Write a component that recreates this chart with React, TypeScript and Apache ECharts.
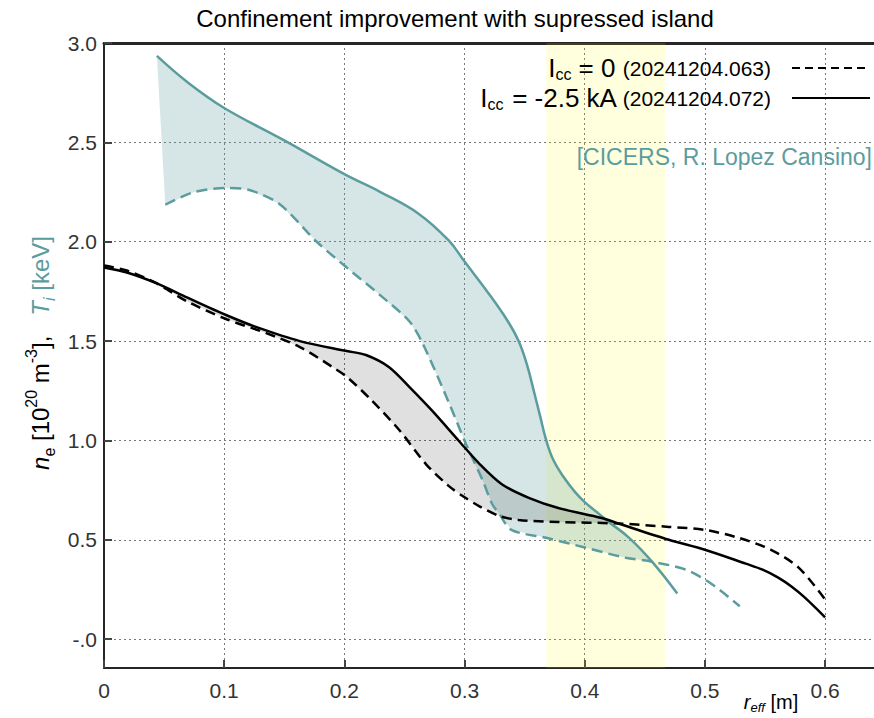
import React, { useEffect, useRef } from 'react';
import * as echarts from 'echarts';

// T_i profiles (teal)
const tiShot072X = [0.044, 0.07, 0.1, 0.15, 0.2, 0.23, 0.262, 0.287, 0.3, 0.32, 0.336, 0.345, 0.352, 0.358, 0.363, 0.368, 0.374, 0.382, 0.392, 0.4, 0.41, 0.42, 0.437, 0.456, 0.477];
const tiShot072Y = [2.935, 2.8, 2.673, 2.51, 2.34, 2.25, 2.14, 2.005, 1.9, 1.74, 1.6, 1.5, 1.38, 1.24, 1.12, 1.0, 0.9, 0.82, 0.74, 0.69, 0.64, 0.59, 0.51, 0.39, 0.23];
const tiShot063X = [0.051, 0.075, 0.102, 0.121, 0.146, 0.177, 0.202, 0.23, 0.254, 0.265, 0.287, 0.301, 0.315, 0.323, 0.329, 0.339, 0.368, 0.401, 0.434, 0.456, 0.484, 0.505, 0.529];
const tiShot063Y = [2.186, 2.25, 2.27, 2.26, 2.19, 2.0, 1.87, 1.73, 1.6, 1.49, 1.19, 0.985, 0.8, 0.68, 0.63, 0.55, 0.51, 0.46, 0.41, 0.39, 0.35, 0.28, 0.166];

// n_e profiles (black)
const neShot072X = [0, 0.019, 0.044, 0.069, 0.102, 0.127, 0.163, 0.202, 0.218, 0.237, 0.254, 0.273, 0.295, 0.312, 0.331, 0.354, 0.378, 0.414, 0.428, 0.47, 0.5, 0.534, 0.548, 0.561, 0.572, 0.583, 0.6];
const neShot072Y = [1.87, 1.845, 1.79, 1.72, 1.63, 1.57, 1.5, 1.45, 1.43, 1.37, 1.27, 1.15, 1.0, 0.885, 0.78, 0.71, 0.66, 0.61, 0.582, 0.5, 0.45, 0.38, 0.35, 0.31, 0.265, 0.21, 0.11];
const neShot063X = [0, 0.019, 0.044, 0.069, 0.102, 0.135, 0.163, 0.19, 0.202, 0.223, 0.246, 0.268, 0.287, 0.3, 0.312, 0.329, 0.345, 0.378, 0.428, 0.47, 0.5, 0.528, 0.555, 0.578, 0.6];
const neShot063Y = [1.88, 1.855, 1.79, 1.7, 1.61, 1.54, 1.47, 1.37, 1.32, 1.2, 1.05, 0.88, 0.77, 0.714, 0.67, 0.62, 0.6, 0.59, 0.582, 0.565, 0.55, 0.51, 0.45, 0.36, 0.2];

// fill limits (where the two curves cross)
const tiFillEndX = 0.456;
const neFillEndX = 0.428;

// highlighted radial band
const bandRange = [0.368, 0.467];

// axes
const xRange = [0, 0.6407];
const yRange = [-0.145, 3.0];
const xStep = 0.1;
const yStep = 0.5;

const titleText = 'Confinement improvement with supressed island';
const legendShots = ['20241204.063', '20241204.072'];
const creditText = '[CICERS, R. Lopez Cansino]';

const TEAL = '#5b9c9e';
const FONT = 'Liberation Sans, Arial, sans-serif';

function pairs(xs: number[], ys: number[]) {
  return xs.map((x, i) => [x, ys[i]]);
}

function bandPolygon(upX: number[], upY: number[], loX: number[], loY: number[], endX: number) {
  const up = pairs(upX, upY).filter((p) => p[0] <= endX + 1e-9);
  const lo = pairs(loX, loY).filter((p) => p[0] <= endX + 1e-9).reverse();
  return up.concat(lo);
}

const legendRich = {
  m: { fontSize: 26, fontFamily: FONT, lineHeight: 29, verticalAlign: 'middle', fill: '#000' },
  s: { fontSize: 16, fontFamily: FONT, lineHeight: 14, verticalAlign: 'bottom', fill: '#000' },
  p: { fontSize: 21, fontFamily: FONT, lineHeight: 29, verticalAlign: 'middle', fill: '#000' },
};

export default function App() {
  const ref = useRef<HTMLDivElement>(null);

  useEffect(() => {
    const chart = echarts.init(ref.current as HTMLDivElement, null, { renderer: 'svg' });

    const tiPoly = bandPolygon(tiShot072X, tiShot072Y, tiShot063X, tiShot063Y, tiFillEndX);
    const nePoly = bandPolygon(neShot072X, neShot072Y, neShot063X, neShot063Y, neFillEndX);

    const fillSeries = (poly: number[][], color: string, z: number) => ({
      type: 'custom',
      silent: true,
      clip: true,
      z,
      data: [[poly[0][0], poly[0][1]]],
      renderItem: (_params: any, api: any) => ({
        type: 'polygon',
        shape: { points: poly.map((p) => api.coord(p)) },
        style: { fill: color, stroke: 'none' },
      }),
    });

    const option: any = {
      animation: false,
      backgroundColor: '#ffffff',
      textStyle: { fontFamily: FONT },
      grid: { left: 104, top: 43, right: 0, bottom: 50, containLabel: false },
      xAxis: [
        {
          type: 'value',
          min: xRange[0],
          max: xRange[1],
          interval: xStep,
          position: 'bottom',
          axisLine: { show: true, onZero: false, lineStyle: { color: '#262626', width: 2 } },
          axisTick: { show: true, inside: true, length: 8, lineStyle: { color: '#444', width: 2 } },
          axisLabel: {
            show: true,
            margin: 12,
            fontSize: 21,
            color: '#333',
            fontFamily: FONT,
            showMaxLabel: false,
            formatter: (v: number) => (Math.abs(v) < 1e-9 ? '0' : v.toFixed(1)),
          },
          splitLine: { show: true, lineStyle: { color: '#777', width: 1, type: [2, 3] } },
        },
        {
          type: 'value',
          min: xRange[0],
          max: xRange[1],
          position: 'top',
          axisLine: { show: true, onZero: false, lineStyle: { color: '#262626', width: 3 } },
          axisTick: { show: false },
          axisLabel: { show: false },
          splitLine: { show: false },
        },
      ],
      yAxis: {
        type: 'value',
        min: yRange[0],
        max: yRange[1],
        minInterval: yStep,
        maxInterval: yStep,
        splitNumber: 6,
        axisLine: { show: true, onZero: false, lineStyle: { color: '#262626', width: 2 } },
        axisTick: { show: true, inside: true, length: 8, lineStyle: { color: '#444', width: 2 } },
        axisLabel: {
          show: true,
          margin: 7,
          fontSize: 21,
          color: '#333',
          fontFamily: FONT,
          showMinLabel: false,
          formatter: (v: number) => (Math.abs(v) < 1e-9 ? '-.0' : v.toFixed(1)),
        },
        splitLine: { show: true, lineStyle: { color: '#777', width: 1, type: [2, 3] } },
      },
      series: [
        fillSeries(tiPoly, 'rgba(95,158,160,0.26)', 1),
        fillSeries(nePoly, 'rgba(0,0,0,0.12)', 2),
        {
          type: 'line',
          name: 'band',
          data: [],
          z: 3,
          markArea: {
            silent: true,
            itemStyle: { color: 'rgba(255,255,0,0.13)' },
            data: [[{ xAxis: bandRange[0] }, { xAxis: bandRange[1] }]],
          },
        },
        {
          type: 'line',
          name: 'Ti 072',
          data: pairs(tiShot072X, tiShot072Y),
          showSymbol: false,
          smooth: 0.4,
          z: 5,
          lineStyle: { color: TEAL, width: 2.5 },
        },
        {
          type: 'line',
          name: 'Ti 063',
          data: pairs(tiShot063X, tiShot063Y),
          showSymbol: false,
          smooth: 0.3,
          z: 5,
          lineStyle: { color: TEAL, width: 2.5, type: [11, 6] },
        },
        {
          type: 'line',
          name: 'ne 072',
          data: pairs(neShot072X, neShot072Y),
          showSymbol: false,
          smooth: 0.3,
          z: 6,
          lineStyle: { color: '#000', width: 2.5 },
        },
        {
          type: 'line',
          name: 'ne 063',
          data: pairs(neShot063X, neShot063Y),
          showSymbol: false,
          smooth: 0.3,
          z: 6,
          lineStyle: { color: '#000', width: 2.5, type: [10, 6] },
        },
      ],
      graphic: [
        {
          type: 'text',
          x: 455,
          y: 18,
          style: {
            text: titleText,
            fontSize: 24,
            fontFamily: FONT,
            fill: '#000',
            align: 'center',
            verticalAlign: 'middle',
          },
        },
        {
          type: 'text',
          x: 771,
          y: 68,
          z: 100,
          style: {
            text: '{m|I}{s|cc}{m| = 0 }{p|(' + legendShots[0] + ')}',
            align: 'right',
            verticalAlign: 'middle',
            fill: '#000',
            fontFamily: FONT,
            rich: legendRich,
          },
        },
        {
          type: 'text',
          x: 771,
          y: 98,
          z: 100,
          style: {
            text: '{m|I}{s|cc}{m| = -2.5 kA }{p|(' + legendShots[1] + ')}',
            align: 'right',
            verticalAlign: 'middle',
            fill: '#000',
            fontFamily: FONT,
            rich: legendRich,
          },
        },
        {
          type: 'line',
          z: 100,
          shape: { x1: 792, y1: 68, x2: 870, y2: 68 },
          style: { stroke: '#000', lineWidth: 2, lineDash: [8, 5] },
        },
        {
          type: 'line',
          z: 100,
          shape: { x1: 792, y1: 98, x2: 870, y2: 98 },
          style: { stroke: '#000', lineWidth: 2 },
        },
        {
          type: 'text',
          x: 872,
          y: 157,
          z: 100,
          style: {
            text: creditText,
            fontSize: 23,
            fontFamily: FONT,
            fill: TEAL,
            align: 'right',
            verticalAlign: 'middle',
          },
        },
        {
          type: 'text',
          x: 40,
          y: 353,
          rotation: Math.PI / 2,
          style: {
            text: '{n|n}{ns|e}{t| [10}{sup|20}{t| m}{sup|-3}{t|],   }{T|T}{Ts|i}{k| [keV]}',
            align: 'center',
            verticalAlign: 'middle',
            fontFamily: FONT,
            rich: {
              n: { fontSize: 24, fontStyle: 'italic', fontFamily: FONT, lineHeight: 34, verticalAlign: 'middle', fill: '#000' },
              ns: { fontSize: 16, fontFamily: FONT, lineHeight: 16, verticalAlign: 'bottom', fill: '#000' },
              t: { fontSize: 24, fontFamily: FONT, lineHeight: 34, verticalAlign: 'middle', fill: '#000' },
              sup: { fontSize: 16, fontFamily: FONT, lineHeight: 16, verticalAlign: 'top', fill: '#000' },
              T: { fontSize: 24, fontStyle: 'italic', fontFamily: FONT, lineHeight: 34, verticalAlign: 'middle', fill: TEAL },
              Ts: { fontSize: 16, fontStyle: 'italic', fontFamily: FONT, lineHeight: 16, verticalAlign: 'bottom', fill: TEAL },
              k: { fontSize: 24, fontFamily: FONT, lineHeight: 34, verticalAlign: 'middle', fill: TEAL },
            },
          },
        },
        {
          type: 'text',
          x: 771,
          y: 702,
          style: {
            text: '{r|r}{s|eff}{t| [m]}',
            align: 'center',
            verticalAlign: 'middle',
            fontFamily: FONT,
            rich: {
              r: { fontSize: 20, fontStyle: 'italic', fontFamily: FONT, lineHeight: 24, verticalAlign: 'middle', fill: '#000' },
              s: { fontSize: 13, fontStyle: 'italic', fontFamily: FONT, lineHeight: 13, verticalAlign: 'bottom', fill: '#000' },
              t: { fontSize: 20, fontFamily: FONT, lineHeight: 24, verticalAlign: 'middle', fill: '#000' },
            },
          },
        },
      ],
    };

    chart.setOption(option);
    return () => chart.dispose();
  }, []);

  return (
    <div
      ref={ref}
      style={{ position: 'fixed', left: 0, top: 0, width: 874, height: 718, background: '#fff' }}
    />
  );
}
